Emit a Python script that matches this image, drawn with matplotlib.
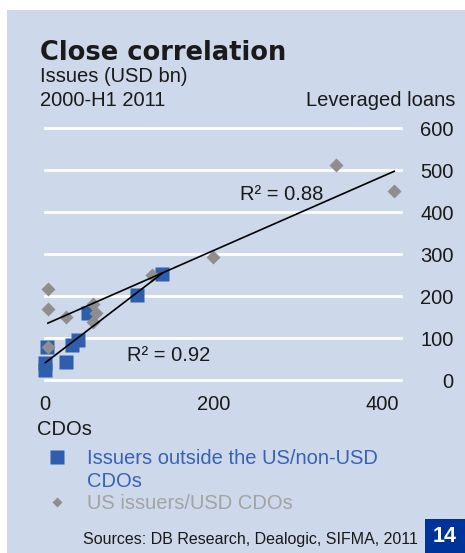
import matplotlib
matplotlib.use("Agg")
import matplotlib.pyplot as plt
import numpy as np
from matplotlib.patches import Rectangle
from matplotlib.lines import Line2D

# ---- data (USD bn) -----------------------------------------------------------
nonus_cdo = [3, 1, 1, 25, 33, 40, 52, 109, 139]
nonus_lev = [78, 40, 24, 44, 83, 95, 159, 202, 252]

us_cdo = [4, 4, 25, 58, 61, 57, 127, 199, 4, 345, 414]
us_lev = [217, 169, 149, 181, 159, 139, 250, 292, 78, 511, 450]

y_ticks = [0, 100, 200, 300, 400, 500, 600]
x_ticks = [0, 200, 400]

BG = "#CDD8EA"
BLUE = "#2F5EAD"
GREY = "#8E8E8E"
INK = "#1A1A1A"
FONT = "Liberation Sans"

W, H = 465, 553
fig = plt.figure(figsize=(W / 100, H / 100), dpi=100)
fig.patches.append(Rectangle((7 / W, 0), 1 - 7 / W, (H - 10) / H,
                             transform=fig.transFigure, facecolor=BG,
                             edgecolor="none", zorder=-5))

ax = fig.add_axes([44.5 / W, 1 - 380 / H, (401 - 44.5) / W, (380 - 128) / H])
ax.set_zorder(2)
ax.patch.set_visible(False)
ax.set_xlim(0, 422)
ax.set_ylim(0, 600)
for s in ax.spines.values():
    s.set_visible(False)

for yv in y_ticks:
    ax.axhline(yv, color="white", lw=2.0, zorder=1, clip_on=False)

ax.set_yticks(y_ticks)
ax.set_xticks(x_ticks)
ax.yaxis.tick_right()
ax.tick_params(axis="y", length=0, pad=38, labelsize=14.5, labelcolor=INK)
ax.tick_params(axis="x", length=0, pad=11, labelsize=14.5, labelcolor=INK)
plt.setp(ax.get_yticklabels(), ha="right", family=FONT)
plt.setp(ax.get_xticklabels(), family=FONT)

# scatter series
ax.plot(nonus_cdo, nonus_lev, ls="none", marker="s", ms=10.5, mfc=BLUE,
        mec="none", zorder=3, clip_on=False)
ax.plot(us_cdo, us_lev, ls="none", marker="D", ms=7.5, mfc=GREY,
        mec="none", zorder=4, clip_on=False)

# linear trendlines
for xs, ys in ((nonus_cdo, nonus_lev), (us_cdo, us_lev)):
    xs = np.asarray(xs, float)
    k, b = np.polyfit(xs, ys, 1)
    xx = np.array([xs.min(), xs.max()])
    ax.plot(xx, k * xx + b, color="black", lw=1.2, zorder=5, clip_on=False)

ax.text(232, 428, "R² = 0.88", fontsize=14.5, family=FONT, color=INK,
        va="baseline", zorder=6)
ax.text(98, 46, "R² = 0.92", fontsize=14.5, family=FONT, color=INK,
        va="baseline", zorder=6)

# ---- header texts ------------------------------------------------------------
fig.text(40 / W, 1 - 60 / H, "Close correlation", fontsize=18.5,
         family="DejaVu Sans", weight="heavy", color=INK, va="baseline")
fig.text(40 / W, 1 - 82 / H, "Issues (USD bn)", fontsize=14.5, family=FONT,
         color=INK, va="baseline")
fig.text(40 / W, 1 - 106 / H, "2000-H1 2011", fontsize=14.5, family=FONT,
         color=INK, va="baseline")
fig.text(455 / W, 1 - 106 / H, "Leveraged loans", fontsize=14.5, family=FONT,
         color=INK, va="baseline", ha="right")
fig.text(37 / W, 1 - 435 / H, "CDOs", fontsize=14.5, family=FONT,
         color=INK, va="baseline")

# ---- legend ------------------------------------------------------------------
fig.add_artist(Line2D([57 / W], [1 - 457 / H], transform=fig.transFigure,
                      marker="s", ms=9.5, mfc=BLUE, mec="none", ls="none"))
fig.add_artist(Line2D([57 / W], [1 - 502 / H], transform=fig.transFigure,
                      marker="D", ms=5, mfc=GREY, mec="none", ls="none"))
fig.text(87 / W, 1 - 464 / H, "Issuers outside the US/non-USD",
         fontsize=14.5, family=FONT, color="#3763B2", va="baseline")
fig.text(87 / W, 1 - 487 / H, "CDOs",
         fontsize=14.5, family=FONT, color="#3763B2", va="baseline")
fig.text(87 / W, 1 - 509 / H, "US issuers/USD CDOs", fontsize=14.5,
         family=FONT, color="#A3A3A3", va="baseline")

# ---- footer ------------------------------------------------------------------
fig.text(418 / W, 1 - 544 / H, "Sources: DB Research, Dealogic, SIFMA, 2011",
         fontsize=11.5, family=FONT, color=INK, va="baseline", ha="right")
fig.patches.append(Rectangle((425 / W, 0), 40 / W, 34 / H,
                             transform=fig.transFigure, facecolor="#003399",
                             edgecolor="none", zorder=1))
fig.text(445 / W, 1 - 536 / H, "14", fontsize=15.5, family=FONT, weight="bold",
         color="white", ha="center", va="center")

fig.savefig("out.png", dpi=100, facecolor="white")
